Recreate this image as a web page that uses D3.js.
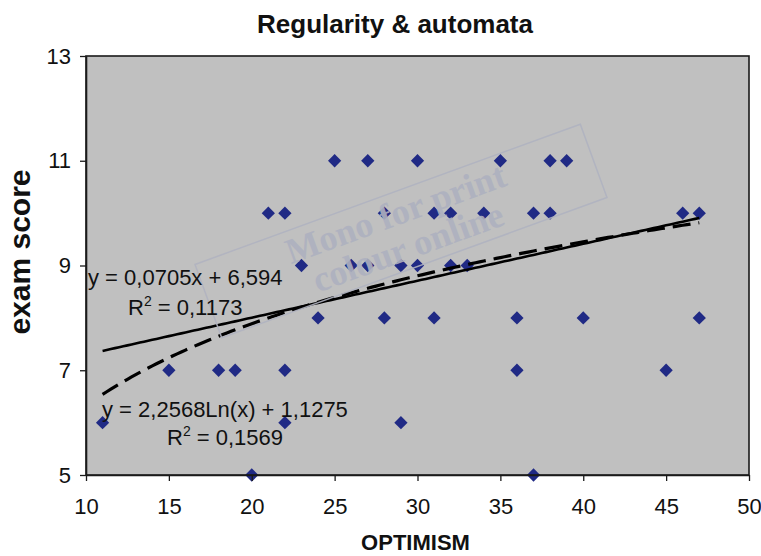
<!DOCTYPE html>
<html>
<head>
<meta charset="utf-8">
<script src="https://cdn.jsdelivr.net/npm/d3@7"></script>
<style>
  html, body { margin: 0; padding: 0; background: #ffffff; }
  svg { display: block; }
  text { font-family: Arial, "Liberation Sans", sans-serif; }
</style>
</head>
<body>
<script>
// ---- data ----
const optimism = [11,15,18,19,20,21,22,22,22,23,24,25,26,27,27,28,28,29,29,30,30,31,31,32,32,33,34,35,36,36,37,37,38,38,39,40,45,46,47,47];
const examScore = [6,7,7,7,5,10,10,7,6,9,8,11,9,11,9,10,8,9,6,11,9,10,8,10,9,9,10,11,8,7,10,5,11,10,11,8,7,10,10,8];
const xTicks = [10,15,20,25,30,35,40,45,50];
const yTicks = [5,7,9,11,13];
const linearCoef = [0.0705, 6.594];     // slope, intercept
const logCoef = [2.2568, 1.1275];       // a*ln(x) + b
const trendRange = [11, 47];
const titleText = "Regularity & automata";
const xLabel = "OPTIMISM";
const yLabel = "exam score";
const linEq = "y = 0,0705x + 6,594";
const linR2 = " = 0,1173";
const logEq = "y = 2,2568Ln(x) + 1,1275";
const logR2 = " = 0,1569";
const watermark = ["Mono for print", "colour online"];

const W = 761, H = 556;
const margin = {left: 86, right: 12, top: 56, bottom: 81};
const pw = W - margin.left - margin.right;
const ph = H - margin.top - margin.bottom;

const svg = d3.select("body").append("svg").attr("width", W).attr("height", H);

const x = d3.scaleLinear().domain([10, 50]).range([0, pw]);
const y = d3.scaleLinear().domain([5, 13]).range([ph, 0]);

const g = svg.append("g").attr("transform", `translate(${margin.left},${margin.top})`);

// plot background
g.append("rect").attr("x", 0).attr("y", 0).attr("width", pw).attr("height", ph)
  .attr("fill", "#c0c0c0");

// markers
const sym = d3.symbol().type(d3.symbolSquare).size(88);
g.selectAll("path.pt").data(optimism.map((v, i) => [v, examScore[i]]))
  .enter().append("path").attr("class", "pt")
  .attr("d", sym)
  .attr("transform", d => `translate(${x(d[0])},${y(d[1])}) rotate(45)`)
  .attr("fill", "#202a85");

// trend lines
const xs = d3.range(trendRange[0], trendRange[1] + 0.001, 0.25);
const line = d3.line().x(d => x(d[0])).y(d => y(d[1]));
g.append("path")
  .attr("d", line(xs.map(v => [v, linearCoef[0] * v + linearCoef[1]])))
  .attr("fill", "none").attr("stroke", "#000").attr("stroke-width", 2.6);
g.append("path")
  .attr("d", line(xs.map(v => [v, logCoef[0] * Math.log(v) + logCoef[1]])))
  .attr("fill", "none").attr("stroke", "#000").attr("stroke-width", 3.2)
  .attr("stroke-dasharray", "18,8");

// watermark
const wm = g.append("g")
  .attr("transform", `translate(${401 - margin.left},${231 - margin.top}) rotate(-20)`)
  .attr("opacity", 0.9);
wm.append("rect").attr("x", -205).attr("y", -39).attr("width", 410).attr("height", 78)
  .attr("fill", "none").attr("stroke", "#b0b3c0").attr("stroke-width", 1.5);
wm.selectAll("text.wm").data(watermark).enter().append("text").attr("class", "wm")
  .attr("x", 1).attr("y", (d, i) => i === 0 ? -19 : 17)
  .attr("dy", "0.35em")
  .attr("text-anchor", "middle")
  .style("font-family", "'Liberation Serif', 'DejaVu Serif', serif")
  .style("font-weight", "bold")
  .style("font-size", "36px")
  .attr("fill", "#aeb1bf")
  .text(d => d);

// plot border
g.append("rect").attr("x", 0).attr("y", 0).attr("width", pw).attr("height", ph)
  .attr("fill", "none").attr("stroke", "#1a1a1a").attr("stroke-width", 1.6);

// axes
const xAxis = d3.axisBottom(x).tickValues(xTicks).tickSize(6).tickPadding(17).tickSizeOuter(0);
const yAxis = d3.axisLeft(y).tickValues(yTicks).tickSize(6).tickPadding(9).tickSizeOuter(0);
const gx = g.append("g").attr("transform", `translate(0,${ph})`).call(xAxis);
const gy = g.append("g").call(yAxis);
[gx, gy].forEach(a => {
  a.select(".domain").attr("stroke", "#1a1a1a").attr("stroke-width", 1.6);
  a.selectAll(".tick line").attr("stroke", "#1a1a1a").attr("stroke-width", 1.3);
  a.selectAll(".tick text").style("font-size", "22px").style("font-family", "Arial, 'Liberation Sans', sans-serif").attr("fill", "#111");
});

// equations
const eqStyle = sel => sel.style("font-size", "22px").attr("fill", "#111");
eqStyle(svg.append("text").attr("x", 88).attr("y", 285).text(linEq));
const r1 = svg.append("text").attr("x", 128).attr("y", 315);
eqStyle(r1);
r1.append("tspan").text("R");
r1.append("tspan").attr("dy", -9).style("font-size", "14px").text("2");
r1.append("tspan").attr("dy", 9).text(linR2);
eqStyle(svg.append("text").attr("x", 102).attr("y", 417).text(logEq));
const r2 = svg.append("text").attr("x", 167).attr("y", 445);
eqStyle(r2);
r2.append("tspan").text("R");
r2.append("tspan").attr("dy", -9).style("font-size", "14px").text("2");
r2.append("tspan").attr("dy", 9).text(logR2);

// title and axis labels
svg.append("text").attr("x", 395).attr("y", 33).attr("text-anchor", "middle")
  .style("font-size", "26px").style("font-weight", "bold").attr("fill", "#111").text(titleText);
svg.append("text").attr("x", margin.left + pw / 2 - 2).attr("y", 550).attr("text-anchor", "middle")
  .style("font-size", "22px").style("font-weight", "bold").attr("fill", "#111").text(xLabel);
svg.append("text").attr("transform", `translate(30,252) rotate(-90)`).attr("text-anchor", "middle")
  .style("font-size", "30px").style("font-weight", "bold").attr("fill", "#111").text(yLabel);
</script>
</body>
</html>
